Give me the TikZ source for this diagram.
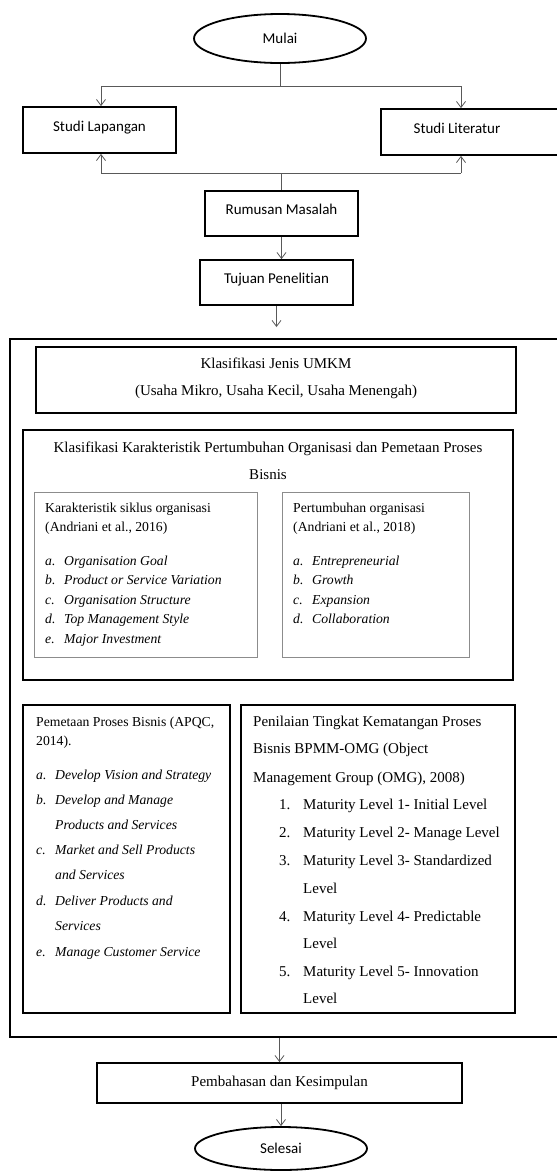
\documentclass[tikz,border=0pt]{standalone}
\usepackage{fontspec}
\setmainfont{Liberation Serif}
\newfontfamily\flowfont{Carlito}[Ligatures=NoCommon]
\usetikzlibrary{shapes.geometric,arrows.meta}

\tikzset{
  terminal/.style={draw, ellipse, line width=1.8pt, inner sep=0pt, font=\flowfont\fontsize{15}{18}\selectfont},
  flowbox/.style={draw, rectangle, line width=1.8pt, inner sep=0pt, text height=11pt, text depth=9pt, font=\flowfont\fontsize{15}{18}\selectfont},
  bigbox/.style={draw, rectangle, line width=1.8pt, inner sep=0pt},
  thinbox/.style={draw=black!45, rectangle, line width=0.8pt, inner sep=0pt},
  link/.style={draw=black!65, line width=0.8pt},
  linkarrow/.style={link, -{Straight Barb[length=6pt,width=9pt]}},
  txt/.style={inner sep=0pt, anchor=base west, font=\fontsize{15}{18}\selectfont},
  smalltxt/.style={txt, font=\fontsize{13.7}{16}\selectfont},
  listit/.style={txt, font=\fontsize{13.7}{16}\selectfont\itshape},
}

\begin{document}
\begin{tikzpicture}[x=1pt, y=-1pt]
  \useasboundingbox (0,0) rectangle (557,1171);
  \clip (0,0) rectangle (557,1171);

  % flow at the top
  \node[terminal, minimum width=172, minimum height=49] (mulai) at (280,38.5) {Mulai};
  \node[flowbox, minimum width=153, minimum height=46] (lapangan) at (99.5,130) {Studi Lapangan};
  \node[flowbox, minimum width=219, minimum height=46] (literatur) at (490.5,132) {};
  \node[inner sep=0pt, anchor=base, font=\flowfont\fontsize{15}{18}\selectfont] (literaturtxt) at (457,133) {Studi Literatur};
  \node[flowbox, minimum width=153, minimum height=45] (rumusan) at (281.5,213.5) {Rumusan Masalah};
  \node[flowbox, minimum width=153, minimum height=45] (tujuan) at (276.5,282.5) {Tujuan Penelitian};

  \coordinate (topL) at (101,86);
  \coordinate (topR) at (461,86);
  \coordinate (botL) at (101,173);
  \coordinate (botR) at (461,173);
  \coordinate (tujuanend) at (276.5,327);

  \draw[link] (mulai.south) -- (mulai.south |- topL);
  \draw[link] (topL) -- (topR);
  \draw[linkarrow] (topL) -- (topL |- lapangan.north);
  \draw[linkarrow] (topR) -- (topR |- literatur.north);
  \draw[link] (botL) -- (botR);
  \draw[linkarrow] (botL) -- (botL |- lapangan.south);
  \draw[linkarrow] (botR) -- (botR |- literatur.south);
  \draw[link] (rumusan.north |- botL) -- (rumusan.north);
  \draw[linkarrow] (rumusan.south) -- (rumusan.south |- tujuan.north);
  \draw[linkarrow] (tujuan.south) -- (tujuanend);

  % big frame
  \node[bigbox, minimum width=590, minimum height=698] (outer) at (305,688) {};

  \node[bigbox, minimum width=480, minimum height=66] (umkm) at (276,380) {};
  \node[txt, anchor=base] (umkm1) at (276,368) {Klasifikasi Jenis UMKM};
  \node[txt, anchor=base] (umkm2) at (276,395) {(Usaha Mikro, Usaha Kecil, Usaha Menengah)};

  \node[bigbox, minimum width=490, minimum height=250] (karak) at (268,555) {};
  \node[txt, anchor=base] (karak1) at (268,452) {Klasifikasi Karakteristik Pertumbuhan Organisasi dan Pemetaan Proses};
  \node[txt, anchor=base] (karak2) at (268,479) {Bisnis};

  \node[thinbox, minimum width=223, minimum height=165] (siklus) at (145.5,574.5) {};
  \node[smalltxt] (siklus1) at (45,512) {Karakteristik siklus organisasi};
  \node[smalltxt] (siklus2) at (45,531) {(Andriani et al., 2016)};
  \foreach \yy/\lab/\txt [count=\i] in {565/a./Organisation Goal, 584/b./Product or Service Variation,
      604/c./Organisation Structure, 623/d./Top Management Style, 643/e./Major Investment}
    \node[listit] (siklusitem\i) at (45,\yy) {\makebox[19pt][l]{\lab}\txt};

  \node[thinbox, minimum width=187, minimum height=165] (tumbuh) at (375.5,574.5) {};
  \node[smalltxt] (tumbuh1) at (293,512) {Pertumbuhan organisasi};
  \node[smalltxt] (tumbuh2) at (293,531) {(Andriani et al., 2018)};
  \foreach \yy/\lab/\txt [count=\i] in {565/a./Entrepreneurial, 584/b./Growth,
      604/c./Expansion, 623/d./Collaboration}
    \node[listit] (tumbuhitem\i) at (293,\yy) {\makebox[19pt][l]{\lab}\txt};

  \node[bigbox, minimum width=207, minimum height=308] (pemetaan) at (126.5,859) {};
  \node[smalltxt] (pemetaan1) at (36,726) {Pemetaan Proses Bisnis (APQC,};
  \node[smalltxt] (pemetaan2) at (36,745) {2014).};
  \foreach \yy/\lab/\txt [count=\i] in {779/a./Develop Vision and Strategy, 804/b./Develop and Manage,
      829//Products and Services, 854/c./Market and Sell Products, 879//and Services,
      905/d./Deliver Products and, 930//Services, 956/e./Manage Customer Service}
    \node[listit] (pemetaanitem\i) at (36,\yy) {\makebox[19pt][l]{\lab}\txt};

  \node[bigbox, minimum width=274, minimum height=308] (penilaian) at (378,859) {};
  \node[txt] (penilaian1) at (253,726) {Penilaian Tingkat Kematangan Proses};
  \node[txt] (penilaian2) at (253,753) {Bisnis BPMM-OMG (Object};
  \node[txt] (penilaian3) at (253,782) {Management Group (OMG), 2008)};
  \foreach \yy/\lab/\txt [count=\i] in {809/1./Maturity Level 1- Initial Level, 837/2./Maturity Level 2- Manage Level,
      865/3./Maturity Level 3- Standardized, 893//Level, 921/4./Maturity Level 4- Predictable,
      948//Level, 976/5./Maturity Level 5- Innovation, 1003//Level}
    \node[txt] (penilaianitem\i) at (279,\yy) {\makebox[24pt][l]{\lab}\txt};

  % flow at the bottom
  \node[bigbox, minimum width=365, minimum height=40, font=\fontsize{15}{18}\selectfont] (pembahasan) at (279.5,1083) {Pembahasan dan Kesimpulan};
  \node[terminal, minimum width=172, minimum height=43] (selesai) at (281,1148.5) {Selesai};

  \draw[linkarrow] (pembahasan.north |- outer.south) -- (pembahasan.north);
  \draw[linkarrow] (pembahasan.south -| selesai.north) -- (selesai.north);
\end{tikzpicture}
\end{document}
